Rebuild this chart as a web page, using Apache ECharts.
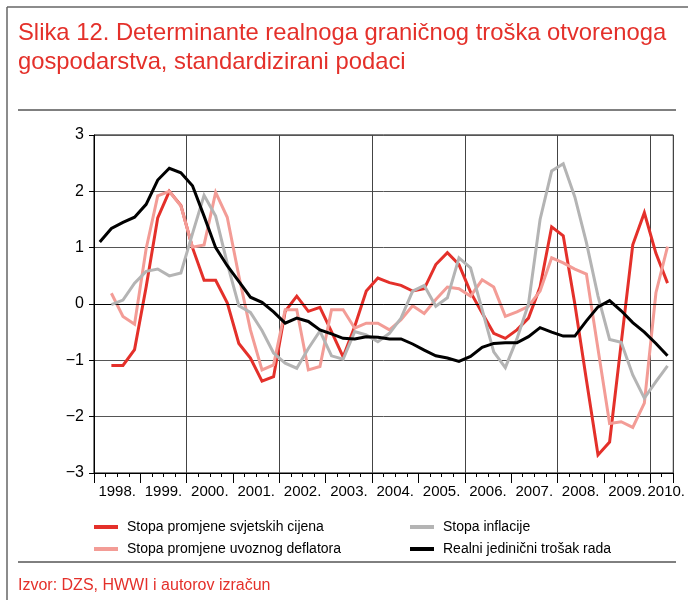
<!DOCTYPE html>
<html>
<head>
<meta charset="utf-8">
<script src="https://cdn.jsdelivr.net/npm/echarts@6/dist/echarts.min.js"></script>
<style>html,body{margin:0;padding:0;background:#fff}#c{width:688px;height:600px}</style>
</head>
<body>
<div id="c"></div>
<script>
// ---- data (quarterly, 1998Q1 .. 2010Q2) ----
const years = [1998, 1999, 2000, 2001, 2002, 2003, 2004, 2005, 2006, 2007, 2008, 2009, 2010];
const yearLabels = ["1998.", "1999.", "2000.", "2001.", "2002.", "2003.", "2004.", "2005.", "2006.", "2007.", "2008.", "2009.", "2010."];
const quarters = years.flatMap(y => ["Q1", "Q2", "Q3", "Q4"].map(q => y + q)).slice(0, 50);

const seriesNames = [
  "Stopa promjene svjetskih cijena",
  "Stopa promjene uvoznog deflatora",
  "Stopa inflacije",
  "Realni jedinični trošak rada"
];

const worldPrices = [null, -1.09, -1.09, -0.81, 0.30, 1.53, 2.00, 1.75, 1.00, 0.42, 0.42, 0.02, -0.70, -0.96, -1.37, -1.29, -0.13, 0.14, -0.13, -0.06, -0.49, -0.94, -0.40, 0.23, 0.46, 0.38, 0.33, 0.23, 0.27, 0.70, 0.91, 0.70, 0.21, -0.16, -0.52, -0.61, -0.46, -0.25, 0.30, 1.37, 1.21, 0.00, -1.35, -2.68, -2.45, -0.70, 1.05, 1.62, 0.90, 0.37];
const importDeflator = [null, 0.19, -0.22, -0.36, 0.98, 1.92, 2.00, 1.74, 1.01, 1.05, 1.98, 1.54, 0.50, -0.46, -1.17, -1.08, -0.10, -0.10, -1.17, -1.11, -0.10, -0.10, -0.43, -0.34, -0.34, -0.46, -0.28, -0.03, -0.17, 0.08, 0.30, 0.27, 0.14, 0.43, 0.30, -0.22, -0.14, -0.04, 0.23, 0.82, 0.73, 0.62, 0.53, -0.80, -2.12, -2.09, -2.19, -1.76, 0.20, 1.02];
const inflation = [null, -0.01, 0.07, 0.37, 0.58, 0.62, 0.50, 0.55, 1.25, 1.93, 1.56, 0.72, -0.03, -0.15, -0.47, -0.87, -1.05, -1.14, -0.79, -0.48, -0.92, -0.98, -0.49, -0.55, -0.67, -0.52, -0.25, 0.23, 0.33, -0.04, 0.11, 0.82, 0.64, -0.10, -0.85, -1.13, -0.62, 0.00, 1.50, 2.36, 2.49, 1.90, 1.09, 0.14, -0.63, -0.68, -1.26, -1.67, -1.38, -1.10];
const unitLabourCost = [1.10, 1.34, 1.45, 1.54, 1.77, 2.20, 2.41, 2.33, 2.10, 1.56, 1.00, 0.68, 0.40, 0.12, 0.03, -0.14, -0.34, -0.25, -0.31, -0.46, -0.53, -0.61, -0.62, -0.58, -0.59, -0.62, -0.62, -0.71, -0.82, -0.92, -0.96, -1.02, -0.93, -0.77, -0.70, -0.69, -0.69, -0.58, -0.42, -0.50, -0.57, -0.57, -0.30, -0.05, 0.06, -0.12, -0.33, -0.50, -0.70, -0.92];

const yTicks = [-3, -2, -1, 0, 1, 2, 3];

// ---- styling ----
const FONT = "'Liberation Sans', Arial, Helvetica, sans-serif";
const RED = "#e4302a";
const colors = ["#e4302a", "#f39c96", "#b4b4b4", "#000000"];

// boundary label array for year labels (centred in each year)
const boundaryLabels = new Array(quarters.length + 1).fill("");
yearLabels.forEach((lab, k) => {
  const pos = Math.min(2 + 4 * k, quarters.length - 1);
  boundaryLabels[pos] = lab;
});
const lastLabel = yearLabels[yearLabels.length - 1];

const chart = echarts.init(document.getElementById("c"), null, { renderer: "canvas" });

const seriesData = [worldPrices, importDeflator, inflation, unitLabourCost];

const legendBase = {
  orient: "vertical", top: 519, padding: 0,
  icon: "rect", itemWidth: 24, itemHeight: 4, itemGap: 6,
  textStyle: { fontFamily: FONT, fontSize: 14, color: "#000", lineHeight: 16, padding: [0, 0, 0, 4] }
};

const option = {
  animation: false,
  backgroundColor: "#fff",
  textStyle: { fontFamily: FONT },
  title: {
    text: "Slika 12. Determinante realnoga graničnog troška otvorenoga\ngospodarstva, standardizirani podaci",
    left: 18, top: 19, padding: 0,
    textStyle: { fontFamily: FONT, fontSize: 23.8, fontWeight: "normal", color: RED, lineHeight: 29 }
  },
  legend: [
    Object.assign({}, legendBase, { data: [seriesNames[0], seriesNames[1]], left: 94 }),
    Object.assign({}, legendBase, { data: [seriesNames[2], seriesNames[3]], left: 410 })
  ],
  grid: {
    left: 94, right: 13, top: 135, bottom: 127,
    show: true, borderColor: "#000", borderWidth: 1, backgroundColor: "transparent"
  },
  xAxis: [
    {
      type: "category", data: quarters, position: "bottom", boundaryGap: true,
      axisLine: { onZero: false, lineStyle: { color: "#000", width: 1 } },
      axisTick: { show: true, interval: 0, length: 4, lineStyle: { color: "#000" } },
      axisLabel: { show: false },
      splitLine: { show: true, interval: (i) => i % 8 === 0, lineStyle: { color: "#444", width: 1 } }
    },
    {
      type: "category", data: quarters, position: "bottom", boundaryGap: true,
      axisLine: { show: false, onZero: false },
      axisTick: { show: true, interval: (i) => i % 4 === 0, length: 10, lineStyle: { color: "#000" } },
      axisLabel: { show: false },
      splitLine: { show: false }
    },
    {
      type: "category", data: boundaryLabels, position: "bottom", boundaryGap: false,
      axisLine: { show: false, onZero: false },
      axisTick: { show: false },
      axisLabel: {
        show: true, interval: 0, margin: 11, fontFamily: FONT, fontSize: 15, color: "#000",
        formatter: (v) => (v === lastLabel ? "{r|" + v + "}" : v),
        rich: { r: { fontFamily: FONT, fontSize: 15, color: "#000", padding: [0, 0, 0, 9] } }
      },
      splitLine: { show: false }
    }
  ],
  yAxis: {
    type: "value", min: -3, max: 3, interval: 1,
    axisLine: { show: true, lineStyle: { color: "#000" } },
    axisTick: { show: true, length: 5, lineStyle: { color: "#000" } },
    axisLabel: {
      margin: 10, fontFamily: FONT, fontSize: 16, color: "#000",
      formatter: (v) => (v < 0 ? "\u2212" + Math.abs(v) : String(v))
    },
    splitLine: { show: true, lineStyle: { color: "#555", width: 1 } }
  },
  series: seriesData.map((d, k) => ({
    name: seriesNames[k],
    type: "line",
    xAxisIndex: 0, yAxisIndex: 0,
    data: d,
    symbol: "none",
    connectNulls: false,
    lineStyle: { color: colors[k], width: 3, join: "miter" },
    itemStyle: { color: colors[k] },
    z: 3 + k,
    markLine: k === 0 ? {
      silent: true, symbol: "none", label: { show: false },
      lineStyle: { color: "#000", width: 1, type: "solid" },
      data: [{ yAxis: 0 }]
    } : undefined
  })),
  graphic: [
    { type: "line", shape: { x1: 7, y1: 7, x2: 688, y2: 7 }, style: { stroke: "#666", lineWidth: 1.5 } },
    { type: "line", shape: { x1: 7, y1: 7, x2: 7, y2: 600 }, style: { stroke: "#666", lineWidth: 1.5 } },
    { type: "line", shape: { x1: 18, y1: 110, x2: 676, y2: 110 }, style: { stroke: "#000", lineWidth: 1 } },
    { type: "line", shape: { x1: 18, y1: 562, x2: 676, y2: 562 }, style: { stroke: "#000", lineWidth: 1 } },
    {
      type: "text", left: 18, top: 578,
      style: { text: "Izvor: DZS, HWWI i autorov izračun", fill: RED, font: "16px " + FONT }
    }
  ]
};

chart.setOption(option);
</script>
</body>
</html>
